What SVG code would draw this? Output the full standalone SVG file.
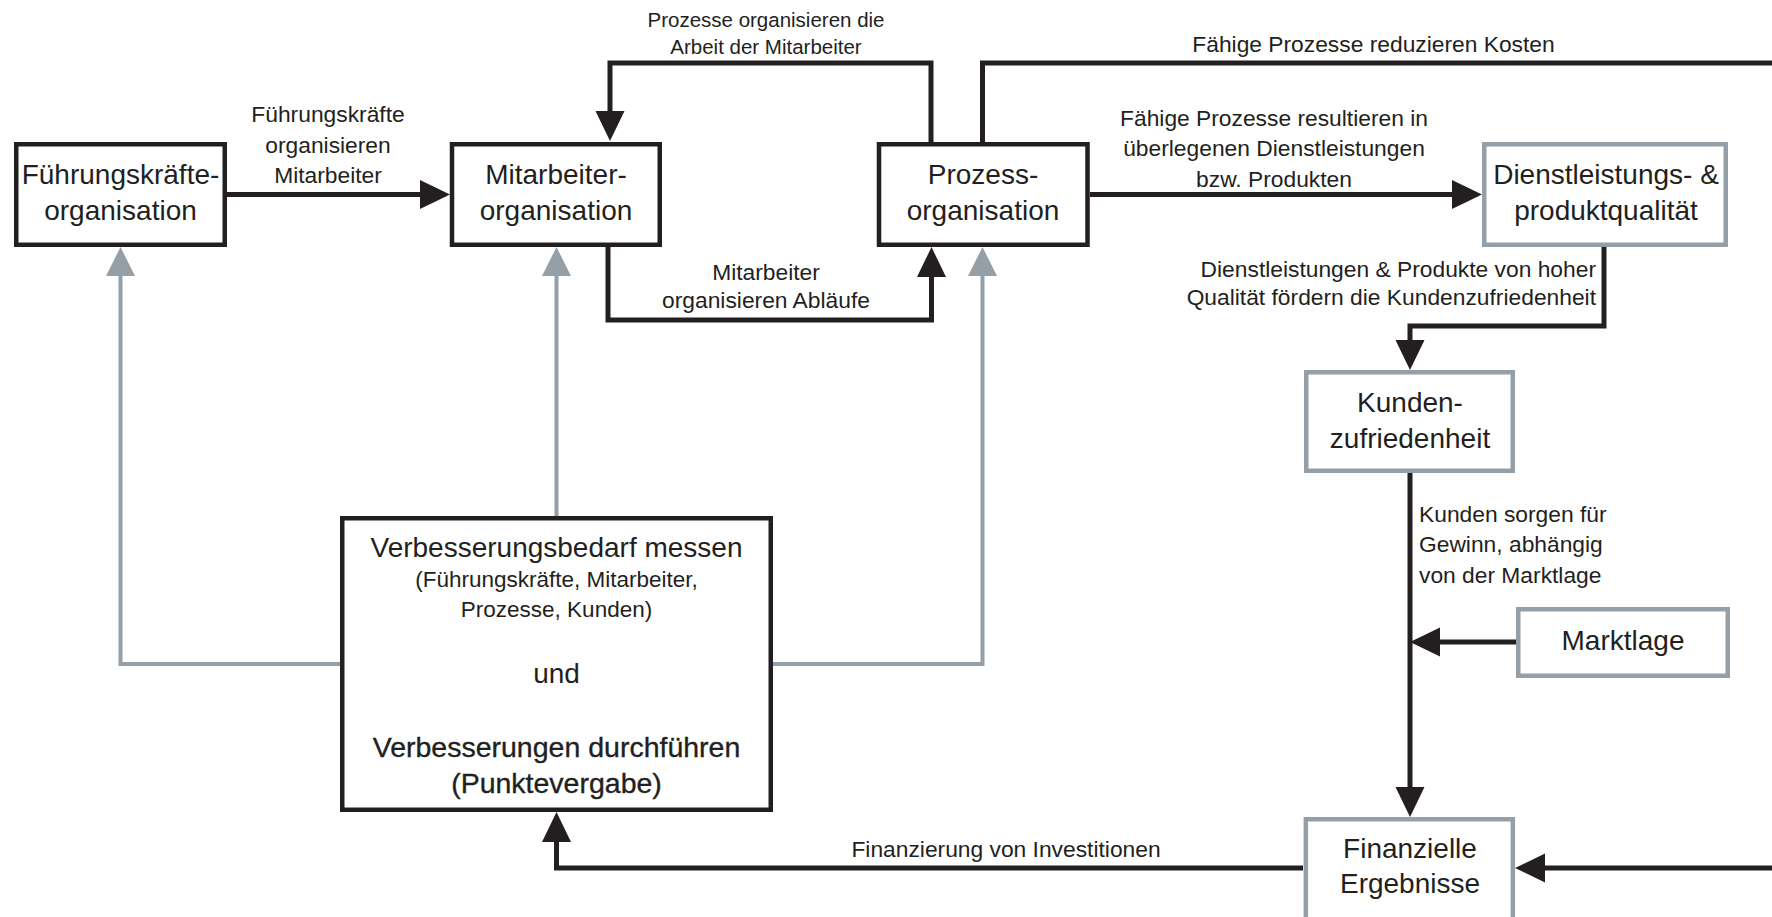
<svg xmlns="http://www.w3.org/2000/svg" width="1772" height="917" viewBox="0 0 1772 917">
  <style>
    text { font-family: "Liberation Sans", Arial, sans-serif; fill: #231f20; }
    .box-t { font-size: 28px; text-anchor: middle; }
    .lbl { font-size: 22.8px; text-anchor: middle; }
    .lbl-s { font-size: 20.5px; text-anchor: middle; }
    .sub { font-size: 22.5px; text-anchor: middle; }
    .strong { font-size: 28.5px; text-anchor: middle; stroke: #231f20; stroke-width: 0.35px; }
    .node-k rect { fill: #ffffff; stroke: #231f20; stroke-width: 4.5; }
    .node-g rect { fill: #ffffff; stroke: #949fa7; stroke-width: 4.5; }
    .wire { fill: none; stroke: #231f20; stroke-width: 5; stroke-linejoin: miter; }
    .wire-g { fill: none; stroke: #949fa7; stroke-width: 4; stroke-linejoin: miter; }
  </style>
  <defs>
    <marker id="ah" markerUnits="userSpaceOnUse" markerWidth="31" markerHeight="30" refX="0" refY="14.5" orient="auto" overflow="visible">
      <path d="M0,0 L30,14.5 L0,29 Z" fill="#231f20"/>
    </marker>
    <marker id="ah-g" markerUnits="userSpaceOnUse" markerWidth="31" markerHeight="30" refX="0" refY="14.5" orient="auto" overflow="visible">
      <path d="M0,0 L29,14.5 L0,29 Z" fill="#949fa7"/>
    </marker>
  </defs>

  <rect width="1772" height="917" fill="#ffffff"/>

  <!-- connectors -->
  <g id="connectors">
    <!-- black flows -->
    <path class="wire" d="M227,194.5 H420" marker-end="url(#ah)"/>
    <path class="wire" d="M931,142 V63 H610 V111" marker-end="url(#ah)"/>
    <path class="wire" d="M608,247 V320 H931.5 V277" marker-end="url(#ah)"/>
    <path class="wire" d="M982.5,142 V63 H1780"/>
    <path class="wire" d="M1090,194.5 H1452" marker-end="url(#ah)"/>
    <path class="wire" d="M1604,247 V326 H1410 V340" marker-end="url(#ah)"/>
    <path class="wire" d="M1410,473 V787" marker-end="url(#ah)"/>
    <path class="wire" d="M1516,642 H1440" marker-end="url(#ah)"/>
    <path class="wire" d="M1780,868 H1545" marker-end="url(#ah)"/>
    <path class="wire" d="M1303,868 H556.5 V842" marker-end="url(#ah)"/>
    <!-- grey feedback from measurement -->
    <path class="wire-g" d="M340,664 H120.5 V276" marker-end="url(#ah-g)"/>
    <path class="wire-g" d="M556.5,516 V276" marker-end="url(#ah-g)"/>
    <path class="wire-g" d="M773,664 H982.5 V276" marker-end="url(#ah-g)"/>

    <!-- connector labels -->
    <text class="lbl" x="328" y="122">Führungskräfte</text>
    <text class="lbl" x="328" y="153">organisieren</text>
    <text class="lbl" x="328" y="183">Mitarbeiter</text>

    <text class="lbl-s" x="766" y="27">Prozesse organisieren die</text>
    <text class="lbl-s" x="766" y="54">Arbeit der Mitarbeiter</text>

    <text class="lbl" x="766" y="280">Mitarbeiter</text>
    <text class="lbl" x="766" y="308">organisieren Abläufe</text>

    <text class="lbl" x="1373.5" y="52">Fähige Prozesse reduzieren Kosten</text>

    <text class="lbl" x="1274" y="126">Fähige Prozesse resultieren in</text>
    <text class="lbl" x="1274" y="156">überlegenen Dienstleistungen</text>
    <text class="lbl" x="1274" y="187">bzw. Produkten</text>

    <text class="lbl" x="1596" y="277" style="text-anchor:end">Dienstleistungen &amp; Produkte von hoher</text>
    <text class="lbl" x="1596" y="305" style="text-anchor:end">Qualität fördern die Kundenzufriedenheit</text>

    <text class="lbl" x="1419" y="522" style="text-anchor:start">Kunden sorgen für</text>
    <text class="lbl" x="1419" y="552" style="text-anchor:start">Gewinn, abhängig</text>
    <text class="lbl" x="1419" y="583" style="text-anchor:start">von der Marktlage</text>

    <text class="lbl" x="1006" y="857">Finanzierung von Investitionen</text>
  </g>

  <!-- nodes -->
  <g id="fuehrungskraefte" class="node-k">
    <rect x="16.25" y="144.25" width="208.5" height="100.5"/>
    <text class="box-t" x="120.5" y="184">Führungskräfte-</text>
    <text class="box-t" x="120.5" y="220">organisation</text>
  </g>

  <g id="mitarbeiter" class="node-k">
    <rect x="452" y="144.25" width="207.75" height="100.5"/>
    <text class="box-t" x="556" y="184">Mitarbeiter-</text>
    <text class="box-t" x="556" y="220">organisation</text>
  </g>

  <g id="prozess" class="node-k">
    <rect x="879" y="144.25" width="208.5" height="100.5"/>
    <text class="box-t" x="983" y="184">Prozess-</text>
    <text class="box-t" x="983" y="220">organisation</text>
  </g>

  <g id="qualitaet" class="node-g">
    <rect x="1484.25" y="144.25" width="241.5" height="100.5"/>
    <text class="box-t" x="1606" y="184">Dienstleistungs- &amp;</text>
    <text class="box-t" x="1606" y="220">produktqualität</text>
  </g>

  <g id="kundenzufriedenheit" class="node-g">
    <rect x="1306.25" y="372.25" width="206.5" height="98.5"/>
    <text class="box-t" x="1410" y="411.5">Kunden-</text>
    <text class="box-t" x="1410" y="447.5">zufriedenheit</text>
  </g>

  <g id="marktlage" class="node-g">
    <rect x="1518.25" y="609.25" width="209.5" height="66.5"/>
    <text class="box-t" x="1623" y="650">Marktlage</text>
  </g>

  <g id="finanzen" class="node-g">
    <rect x="1305.85" y="819.25" width="207" height="120"/>
    <text class="box-t" x="1410" y="858">Finanzielle</text>
    <text class="box-t" x="1410" y="893">Ergebnisse</text>
  </g>

  <g id="verbesserung" class="node-k">
    <rect x="342.25" y="518.25" width="428.5" height="291.5"/>
    <text class="box-t" x="556.5" y="557">Verbesserungsbedarf messen</text>
    <text class="sub" x="556.5" y="587">(Führungskräfte, Mitarbeiter,</text>
    <text class="sub" x="556.5" y="617">Prozesse, Kunden)</text>
    <text class="box-t" x="556.5" y="683">und</text>
    <text class="strong" x="556.5" y="757">Verbesserungen durchführen</text>
    <text class="strong" x="556.5" y="793">(Punktevergabe)</text>
  </g>
</svg>
